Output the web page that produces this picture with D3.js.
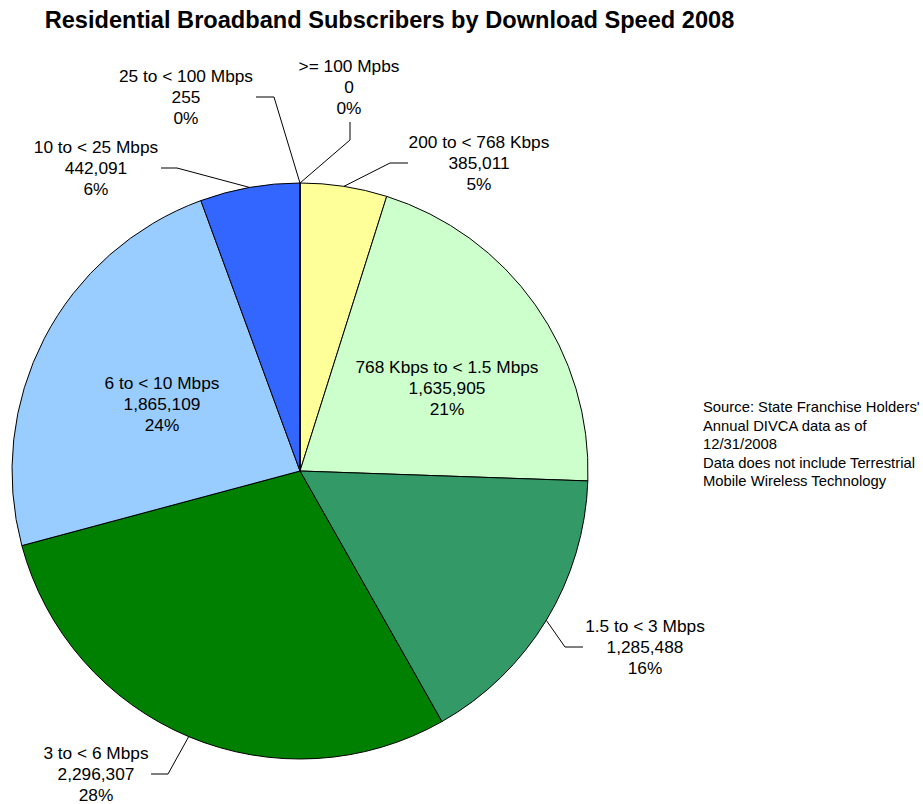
<!DOCTYPE html>
<html><head><meta charset="utf-8">
<script src="https://cdn.jsdelivr.net/npm/d3@7"></script>
<style>body{margin:0;background:#fff}svg{display:block}text{font-family:"Liberation Sans",Arial,sans-serif;fill:#000}</style>
</head><body>
<script>
const categories = ["200 to < 768 Kbps","768 Kbps to < 1.5 Mbps","1.5 to < 3 Mbps","3 to < 6 Mbps","6 to < 10 Mbps","10 to < 25 Mbps","25 to < 100 Mbps",">= 100 Mpbs"];
const subscribers = [385011,1635905,1285488,2296307,1865109,442091,255,0];
const percentLabels = ["5%","21%","16%","28%","24%","6%","0%","0%"];
const colors = ["#FFFF99","#CCFFCC","#339966","#008000","#99CCFF","#3366FF","#3366FF","#3366FF"];
const sourceNote = ["Source: State Franchise Holders'","Annual DIVCA data as of","12/31/2008","Data does not include Terrestrial","Mobile Wireless Technology"];

// label layout: [centerX, firstLineY, elbowX, elbowY, endX, endY] (null elbow = inside label)
const labelLayout = [
  [479,142, 390,163, 408,163],
  [447,367, null],
  [645,626, 565,647, 583,647],
  [96,753, 168,774, 151,774],
  [162,383, null],
  [96,147, 177,168, 161,168],
  [186,76, 274,97, 256,97],
  [349,66, 350,140, 350,122]
];

const W=923,H=804,cx=300,cy=471,R=288;
const svg=d3.select("body").append("svg").attr("width",W).attr("height",H);
svg.append("text").attr("x",389.5).attr("y",28).attr("text-anchor","middle")
  .style("font-weight","bold").style("font-size","23.6px")
  .text("Residential Broadband Subscribers by Download Speed 2008");

const data=categories.map((c,i)=>({c,v:subscribers[i],i}));
const pie=d3.pie().sort(null).value(d=>d.v);
const arcs=pie(data);
const arc=d3.arc().innerRadius(0).outerRadius(R);
const edge=d3.arc().innerRadius(R).outerRadius(R);
const g=svg.append("g").attr("transform",`translate(${cx},${cy})`);
g.selectAll("path.s").data(arcs.filter(a=>a.data.v>0)).join("path")
  .attr("d",arc).attr("fill",d=>colors[d.data.i]).attr("stroke","#000").attr("stroke-width",1);

const fmt=d3.format(",");
arcs.forEach(a=>{
  const L=labelLayout[a.data.i];
  const lines=[a.data.c,fmt(a.data.v),percentLabels[a.data.i]];
  if(L[2]!==null){
    const p=edge.centroid(a);
    svg.append("path").attr("d",d3.line()([[cx+p[0],cy+p[1]],[L[2],L[3]],[L[4],L[5]]]))
      .attr("fill","none").attr("stroke","#000").attr("stroke-width",1);
  }
  const t=svg.append("text").attr("text-anchor","middle").style("font-size","17.3px");
  lines.forEach((s,k)=>t.append("tspan").attr("x",L[0]).attr("y",L[1]+k*21).attr("dy","0.35em").text(s));
});

const st=svg.append("text").style("font-size","14.8px");
sourceNote.forEach((s,k)=>st.append("tspan").attr("x",703).attr("y",407+k*18.5).attr("dy","0.35em").text(s));
</script>
</body></html>
